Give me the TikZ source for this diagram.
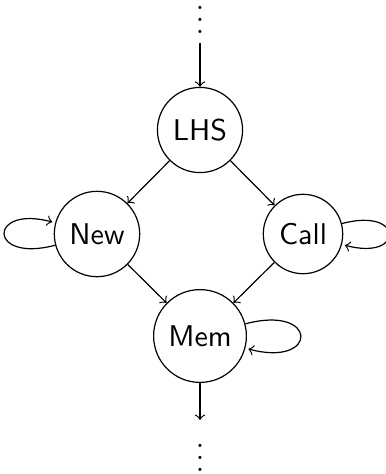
\documentclass[tikz,border=0pt]{standalone}
\usetikzlibrary{arrows}
\begin{document}
\begin{tikzpicture}[x=0.33333pt,y=-0.33333pt,
  state/.style={circle,draw,font=\sffamily},
  dotsnode/.style={inner sep=0pt,outer sep=0pt},
  every edge/.style={draw,->}]
\useasboundingbox (0,0) rectangle (386,474);
\node[state] (lhs) at (200,130) {LHS};
\node[state] (new) at (97,234) {New};
\node[state] (call) at (303,234) {Call};
\node[state] (mem) at (200,336) {Mem};
\node[dotsnode,anchor=south] (top) at (200,33.6) {$\vdots$};
\node[dotsnode,anchor=north] (bot) at (200,426) {$\vdots$};
\draw[->,shorten <=3pt] (top) -- (lhs);
\draw[->] (lhs) -- (new);
\draw[->] (lhs) -- (call);
\draw[->] (new) -- (mem);
\draw[->] (call) -- (mem);
\draw[->,shorten >=2pt] (mem) -- (bot);
\path (new) edge[loop left] (new);
\path (call) edge[loop right] (call);
\path (mem) edge[loop right] (mem);
\end{tikzpicture}
\end{document}
